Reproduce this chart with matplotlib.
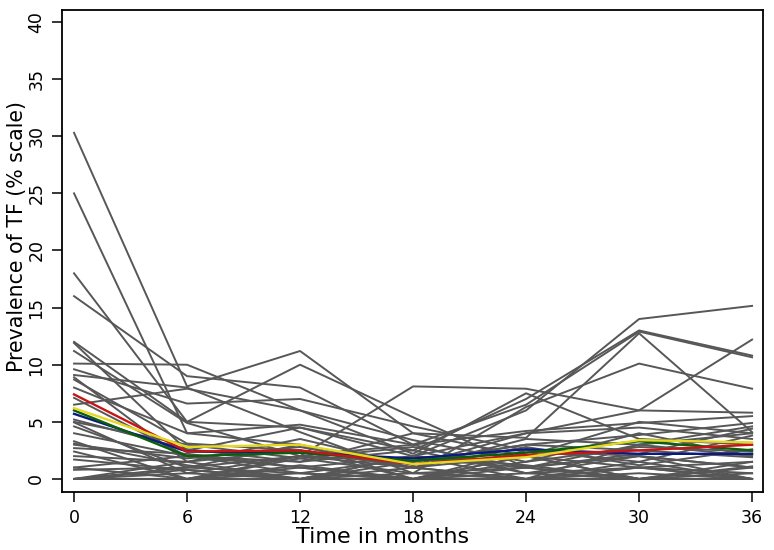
import numpy as np
import matplotlib
matplotlib.use("Agg")
import matplotlib.pyplot as plt

plt.rcParams['font.family'] = ['DejaVu Sans']

# ── data ──
months = [0, 6, 12, 18, 24, 30, 36]

# individual community trajectories (grey)
gray_lines = [
    [30.3, 8.1, 11.2, 4.0, 2.0, 1.0, 0.0],
    [25.0, 4.0, 3.0, 1.0, 3.5, 3.0, 4.6],
    [18.0, 5.0, 4.5, 2.5, 7.0, 13.0, 10.8],
    [16.0, 9.0, 8.0, 3.0, 6.5, 12.9, 10.65],
    [12.0, 5.0, 10.0, 5.4, 1.0, 3.0, 4.0],
    [11.9, 2.5, 4.5, 2.0, 6.0, 14.0, 15.15],
    [11.2, 4.9, 2.0, 8.1, 7.9, 6.0, 12.2],
    [10.1, 10.0, 6.0, 3.4, 1.5, 4.0, 2.0],
    [9.6, 6.6, 7.0, 4.6, 2.5, 2.0, 1.0],
    [9.1, 8.0, 4.1, 0.5, 6.3, 10.1, 7.9],
    [8.9, 1.5, 3.5, 1.2, 4.0, 6.0, 5.8],
    [8.7, 3.1, 2.5, 0.0, 2.0, 5.0, 4.0],
    [8.0, 4.0, 4.75, 3.0, 4.2, 4.9, 5.5],
    [7.1, 2.0, 1.0, 2.0, 0.0, 3.0, 2.0],
    [6.5, 7.9, 6.0, 2.2, 7.5, 3.5, 3.0],
    [5.2, 2.6, 1.5, 4.0, 3.6, 12.75, 4.1],
    [5.0, 3.0, 1.8, 2.8, 1.0, 2.2, 4.4],
    [4.95, 0.5, 2.0, 1.5, 3.0, 3.85, 4.9],
    [4.6, 1.0, 3.0, 0.0, 2.5, 1.5, 3.8],
    [4.0, 2.0, 0.5, 1.8, 1.0, 0.0, 1.5],
    [3.3, 0.0, 2.0, 3.0, 0.5, 2.0, 0.0],
    [3.1, 1.2, 0.0, 2.0, 4.0, 4.5, 3.5],
    [3.0, 1.8, 2.8, 1.0, 2.8, 1.2, 2.6],
    [2.7, 2.2, 1.0, 0.0, 1.5, 2.8, 2.4],
    [2.4, 0.0, 1.8, 0.5, 0.0, 1.0, 0.5],
    [2.0, 1.5, 2.5, 1.0, 2.0, 0.0, 1.1],
    [1.7, 0.8, 0.0, 1.5, 3.0, 2.5, 1.9],
    [1.0, 0.0, 1.2, 0.0, 0.0, 1.0, 0.0],
    [1.0, 2.0, 1.5, 2.5, 0.5, 0.0, 0.5],
    [0.8, 1.0, 0.5, 0.0, 1.0, 2.0, 1.0],
    [0.0, 1.0, 2.0, 1.0, 0.0, 0.5, 0.0],
    [0.0, 0.0, 0.0, 0.5, 1.0, 0.0, 0.0],
    [0.0, 0.5, 0.0, 0.0, 0.0, 1.5, 0.0],
    [0.0, 0.0, 1.0, 0.0, 2.0, 0.0, 1.0],
    [0.0, 1.5, 0.0, 1.0, 0.0, 0.0, 0.0],
    [0.0, 0.0, 0.5, 0.0, 0.0, 0.0, 0.0],
    [0.0, 0.0, 0.0, 0.0, 0.5, 1.0, 1.5],
    [0.0, 0.8, 0.0, 2.0, 1.2, 0.0, 0.0],
]

# summary trajectories (coloured)
red_line    = [7.4, 2.4, 2.5, 1.3, 2.1, 2.5, 3.0]
yellow_line = [6.2, 2.8, 3.0, 1.3, 1.9, 3.4, 3.2]
green_line  = [6.0, 2.0, 2.3, 1.6, 2.3, 3.3, 2.5]
blue_line   = [5.7, 2.4, 2.3, 1.8, 2.6, 2.2, 2.2]

# ── plot ──
fig = plt.figure(figsize=(7.74, 5.5), dpi=100)
ax = fig.add_axes([0.0801, 0.1055, 0.9057, 0.8763])

for vals in gray_lines:
    ax.plot(months, vals, color='#575757', lw=1.4)

ax.plot(months, blue_line,   color='#0a1a80', lw=1.7)
ax.plot(months, green_line,  color='#0b5e0b', lw=1.7)
ax.plot(months, red_line,    color='#c81414', lw=1.7)
ax.plot(months, yellow_line, color='#e6d820', lw=1.7)

ax.set_xlim(-0.64, 36.58)
ax.set_ylim(-1.14, 41.05)
ax.set_xticks(months)
ax.set_yticks(range(0, 41, 5))
ax.tick_params(axis='both', direction='out', length=7, width=1.1,
               labelsize=12.5, color='black')
ax.tick_params(axis='x', pad=5)
ax.tick_params(axis='y', pad=5)
for lab in ax.get_yticklabels():
    lab.set_rotation(90)
    lab.set_va('center')
for s in ax.spines.values():
    s.set_linewidth(1.3)

ax.set_xlabel("Time in months", fontsize=16)
ax.xaxis.set_label_coords(0.458, -0.072)
ax.set_ylabel("Prevalence of TF (% scale)", fontsize=14.8)
ax.yaxis.set_label_coords(-0.05, 0.531)

fig.savefig("out.png", dpi=100)
